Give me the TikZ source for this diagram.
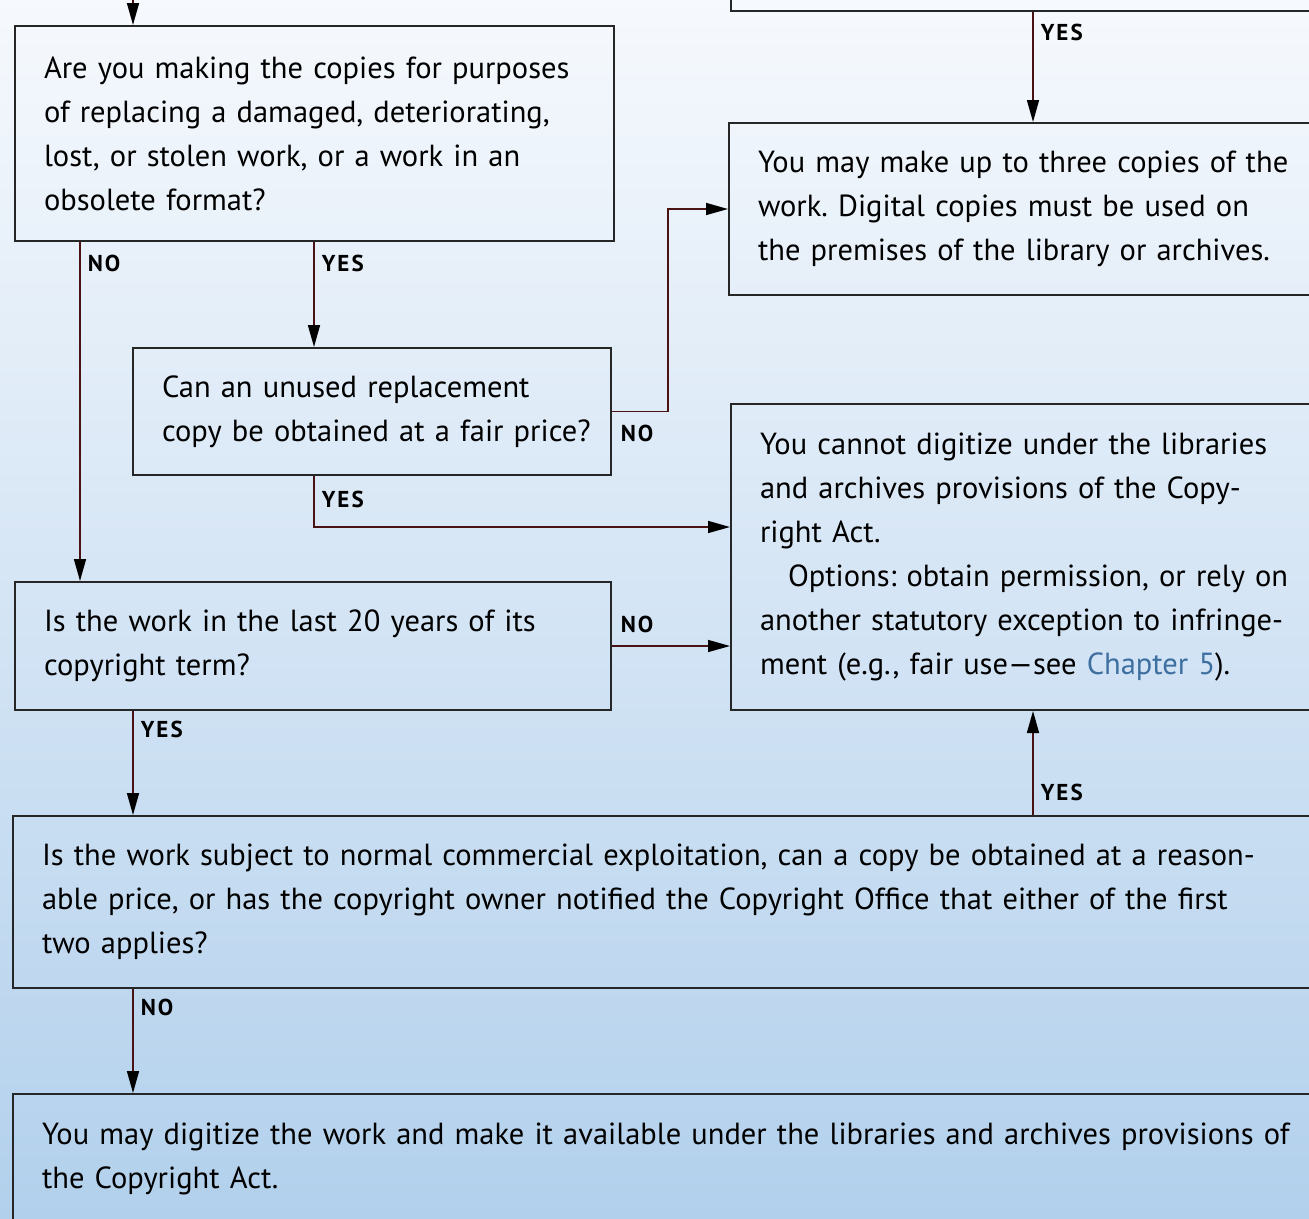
\documentclass[tikz,border=0pt]{standalone}
\usepackage{fontspec}
\setmainfont{PT Sans}
\usetikzlibrary{arrows.meta}
\definecolor{boxline}{HTML}{262626}
\definecolor{flowline}{HTML}{4B1214}
\definecolor{chapblue}{HTML}{3D6FA0}
\definecolor{bgtop}{HTML}{F6F9FD}
\definecolor{bgbottom}{HTML}{B2D0EC}
\frenchspacing

\begin{document}
\begin{tikzpicture}[x=1pt,y=-1pt,
  box/.style={draw=boxline,line width=2pt,inner xsep=29pt,inner ysep=0pt,align=left,anchor=north west,
    font=\fontsize{30.5}{44}\selectfont},
  flow/.style={draw=flowline,line width=1.6pt,-{Triangle[length=22pt,width=12pt,color=black]}},
  yesno/.style={font=\bfseries\fontsize{23}{23}\selectfont\addfontfeature{LetterSpace=9},anchor=west,inner sep=0pt}]
\useasboundingbox (0,0) rectangle (1309,1218);
\clip (0,0) rectangle (1309,1218);
\shade[top color=bgtop,bottom color=bgbottom] (0,0) rectangle (1309,1218);

\node[box,text width=541pt,minimum height=215pt] (copies) at (14,25)
  {Are you making the copies for purposes\\of replacing a damaged, deteriorating,\\lost, or stolen work, or a work in an\\obsolete format?};
\node[box,anchor=south west,minimum width=700pt,minimum height=100pt] (above) at (730,12) {};
\node[box,text width=642pt,minimum height=172pt] (three) at (728,122)
  {You may make up to three copies of the\\work. Digital copies must be used on\\the premises of the library or archives.};
\node[box,text width=420pt,minimum height=127pt] (unused) at (132,347)
  {Can an unused replacement\\\mbox{copy be obtained at a fair price?}};
\node[box,text width=642pt,minimum height=306pt] (cannot) at (730,403)
  {You cannot digitize under the libraries\\and archives provisions of the Copy-\\right Act.\\
   \hspace*{28pt}Options: obtain permission, or rely on\\another statutory exception to infringe-\\ment (e.g., fair use---see \textcolor{chapblue}{Chapter 5}).};
\node[box,text width=538pt,minimum height=128pt] (term) at (14,581)
  {Is the work in the last 20 years of its\\copyright term?};
\node[box,text width=1342pt,minimum height=172pt] (exploit) at (12,815)
  {Is the work subject to normal commercial exploitation, can a copy be obtained at a reason-\\able price, or has the copyright owner notified the Copyright Office that either of the first\\two applies?};
\node[box,text width=1342pt,minimum height=130pt] (digitize) at (12,1093)
  {You may digitize the work and make it available under the libraries and archives provisions of\\the Copyright Act.};

\coordinate (topin) at (133,-40);
\coordinate (colA) at (80,0);
\coordinate (colB) at (314,0);
\coordinate (colC) at (668,0);
\coordinate (colD) at (133,0);
\coordinate (colR) at (1033,0);
\coordinate (rowB) at (0,527);

\draw[flow] (topin) -- (copies.north -| topin);
\draw[flow] (above.south -| colR) -- node[yesno,pos=0,xshift=7pt,yshift=-20pt]{YES} (three.north -| colR);
\draw[flow] (copies.south -| colA) -- node[yesno,pos=0,xshift=7pt,yshift=-21pt]{NO} (term.north -| colA);
\draw[flow] (copies.south -| colB) -- node[yesno,pos=0,xshift=7pt,yshift=-21pt]{YES} (unused.north -| colB);
\draw[flow] (unused.east) -- node[yesno,pos=0,xshift=8pt,yshift=-22pt]{NO} (colC |- unused.east) -- (colC |- three.west) -- (three.west);
\draw[flow] (unused.south -| colB) -- node[yesno,pos=0,xshift=7pt,yshift=-23pt]{YES} (colB |- rowB) -- (cannot.west |- rowB);
\draw[flow] (term.east) -- node[yesno,pos=0,xshift=8pt,yshift=22pt]{NO} (cannot.west |- term.east);
\draw[flow] (term.south -| colD) -- node[yesno,pos=0,xshift=7pt,yshift=-18pt]{YES} (exploit.north -| colD);
\draw[flow] (exploit.north -| colR) -- node[yesno,pos=0,xshift=7pt,yshift=23pt]{YES} (cannot.south -| colR);
\draw[flow] (exploit.south -| colD) -- node[yesno,pos=0,xshift=7pt,yshift=-18pt]{NO} (digitize.north -| colD);
\end{tikzpicture}
\end{document}
